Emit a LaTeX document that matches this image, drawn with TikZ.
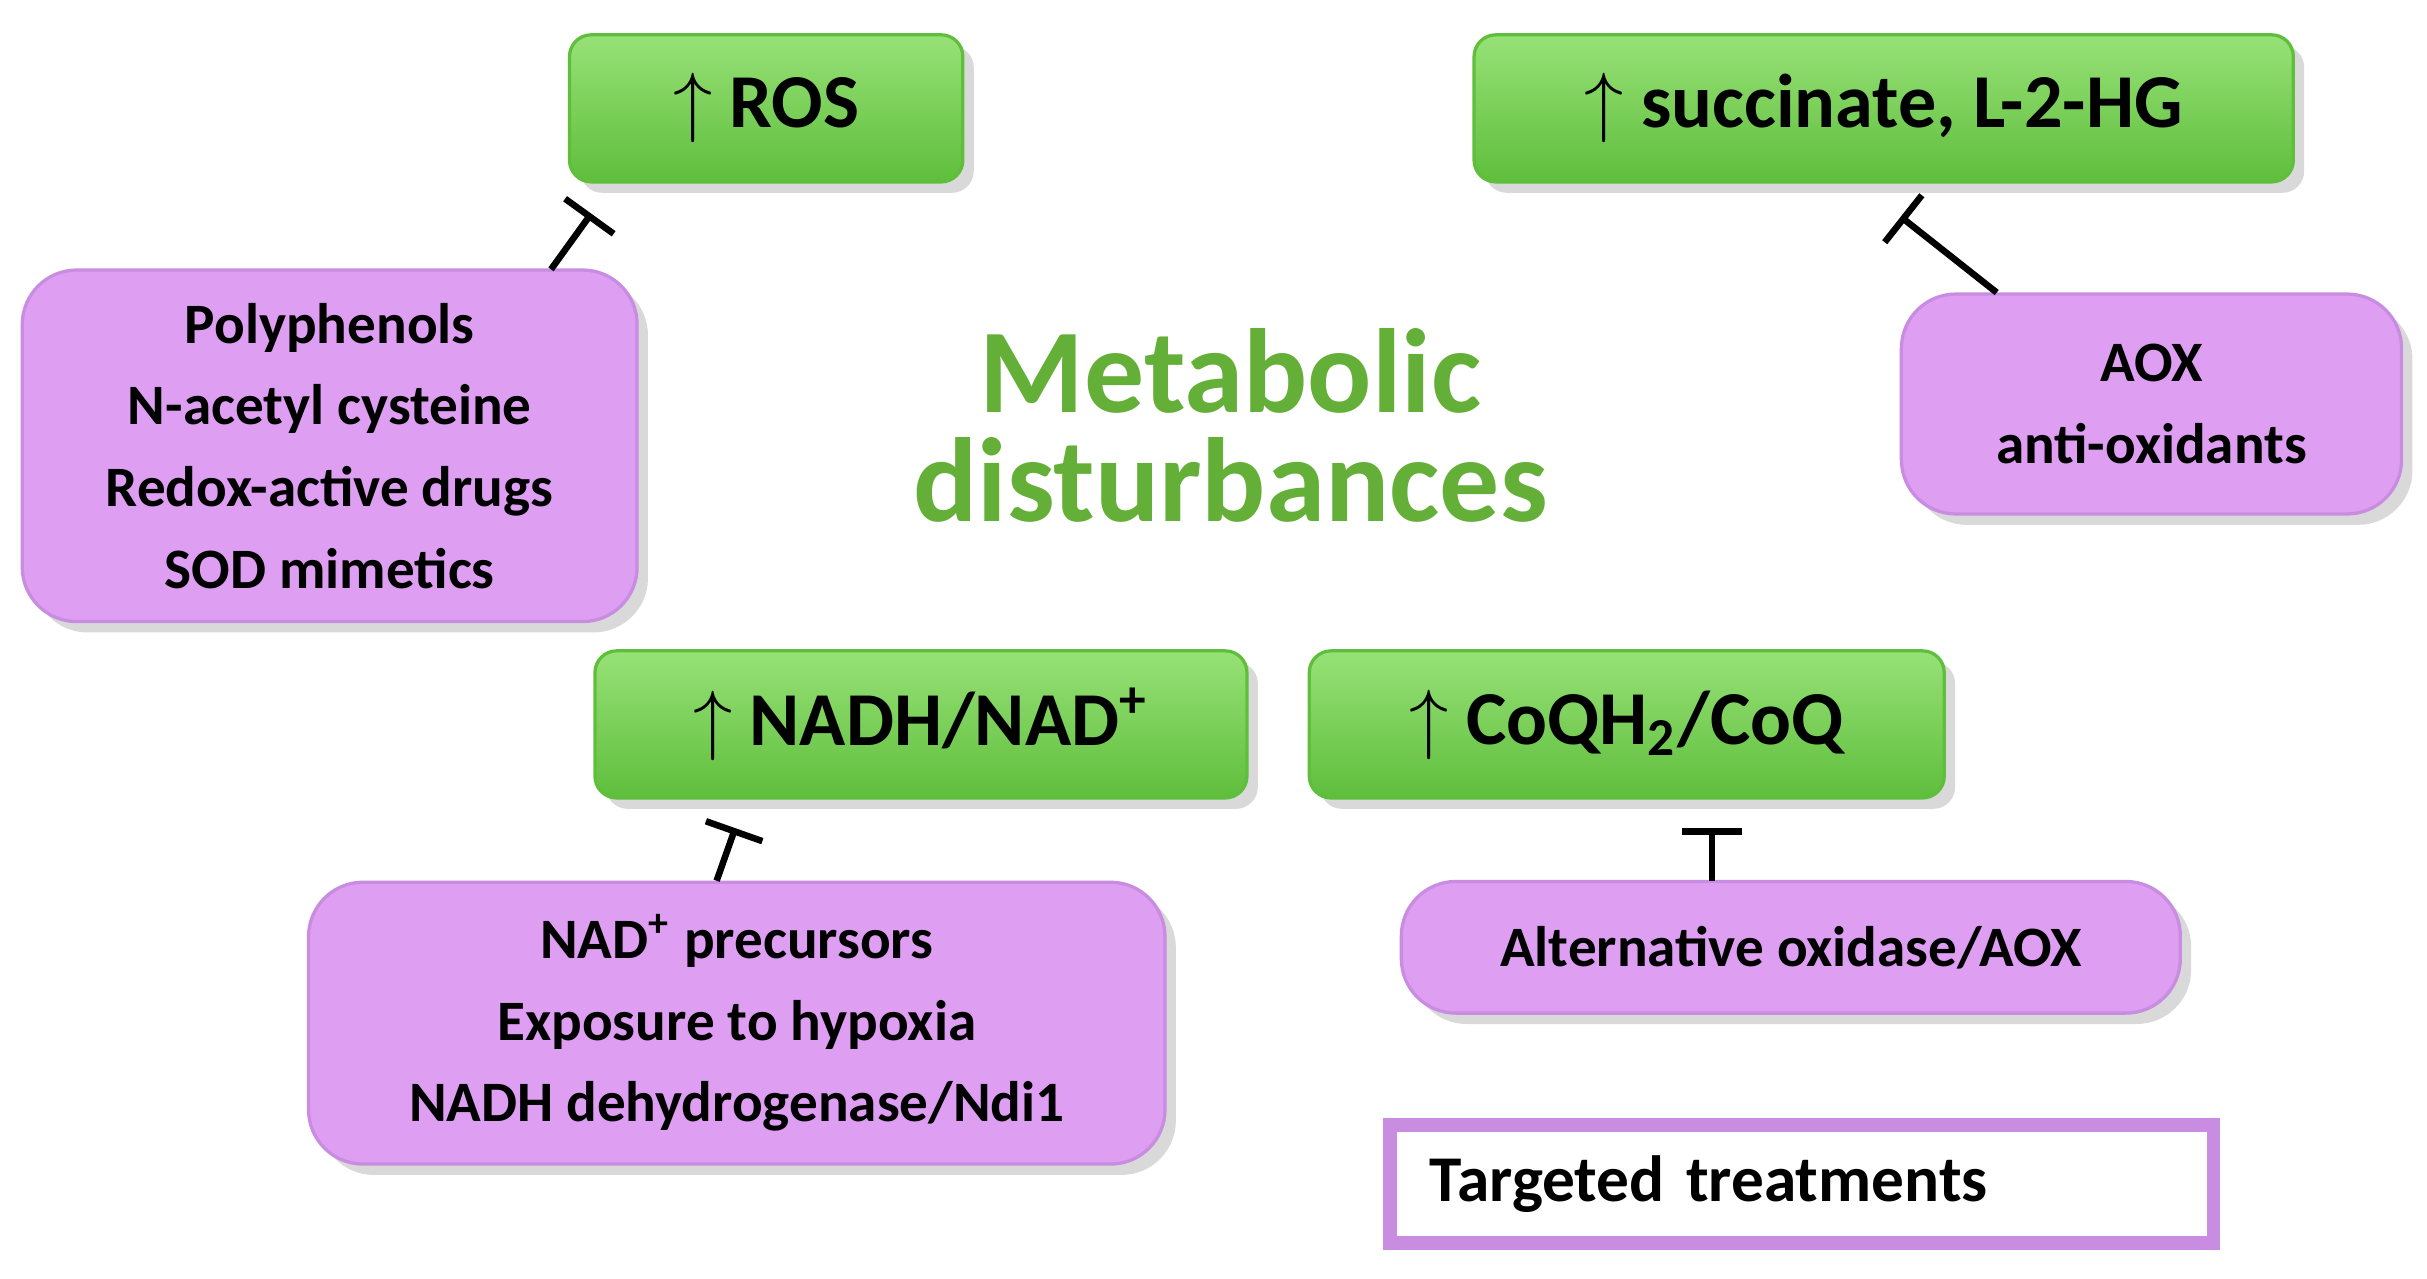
\documentclass[tikz,border=0pt]{standalone}
\usepackage{fontspec}
\setmainfont{Carlito}
\usetikzlibrary{arrows.meta,shadows}
\definecolor{gfill}{RGB}{125,218,85}
\definecolor{gdark}{RGB}{95,190,60}
\definecolor{pfill}{RGB}{222,158,242}
\definecolor{pedge}{RGB}{200,140,225}
\definecolor{mtext}{RGB}{100,175,55}
\begin{document}
\begin{tikzpicture}[x=0.01cm,y=-0.01cm,
  gbox/.style={draw=gdark,line width=0.6pt,top color=gfill!80!white,bottom color=gdark,rounded corners=4pt,font=\bfseries\fontsize{14}{16}\selectfont,inner sep=0pt,drop shadow={opacity=0.3,shadow xshift=2pt,shadow yshift=-2pt}},
  pbox/.style={draw=pedge,line width=0.6pt,fill=pfill,rounded corners=10pt,font=\bfseries\fontsize{10.5}{15}\selectfont,align=center,inner sep=0pt,drop shadow={opacity=0.3,shadow xshift=2pt,shadow yshift=-2pt}},
  inh/.style={line width=1.2pt,-{Bar[width=11pt,line width=1.2pt]}}]
\useasboundingbox (0,0) rectangle (1568,826);
\node[gbox,minimum width=2.54cm,minimum height=0.95cm] (ros) at (495,70) {$\uparrow$ ROS};
\node[gbox,minimum width=5.29cm,minimum height=0.95cm] (suc) at (1217,70) {$\uparrow$ succinate, L-2-HG};
\node[gbox,minimum width=4.21cm,minimum height=0.95cm] (nadh) at (595,468) {$\uparrow$ NADH/NAD\textsuperscript{+}};
\node[gbox,minimum width=4.10cm,minimum height=0.95cm] (coq) at (1051,468) {$\uparrow$ CoQH\textsubscript{2}/CoQ};
\node[pbox,minimum width=3.97cm,minimum height=2.27cm] (poly) at (213,288) {Polyphenols\\N-acetyl cysteine\\Redox-active drugs\\SOD mimetics};
\node[pbox,minimum width=3.23cm,minimum height=1.42cm] (aox) at (1390,261) {AOX\\anti-oxidants};
\node[pbox,minimum width=5.53cm,minimum height=1.82cm] (nadp) at (476,661) {NAD\textsuperscript{+} precursors\\Exposure to hypoxia\\NADH dehydrogenase/Ndi1};
\node[pbox,minimum width=5.03cm,minimum height=0.85cm] (alt) at (1157,612) {Alternative oxidase/AOX};
\node[draw=pedge,line width=2.5pt,fill=white,minimum width=5.32cm,minimum height=0.76cm,font=\bfseries\fontsize{12}{14}\selectfont,text width=4.8cm,align=left] (tt) at (1164,765) {Targeted treatments};
\node[font=\bfseries\fontsize{22}{20}\selectfont,text=mtext,align=center] (met) at (795,275) {Metabolic\\disturbances};
\coordinate (b1) at (382,138);
\coordinate (b2) at (1228,140);
\coordinate (b3) at (475,535);
\coordinate (b4) at (1106,535);
\draw[inh] (356,174) -- (b1);
\draw[inh] (1290,189) -- (b2);
\draw[inh] (463,569) -- (b3);
\draw[inh] (1106,569) -- (b4);
\end{tikzpicture}
\end{document}
